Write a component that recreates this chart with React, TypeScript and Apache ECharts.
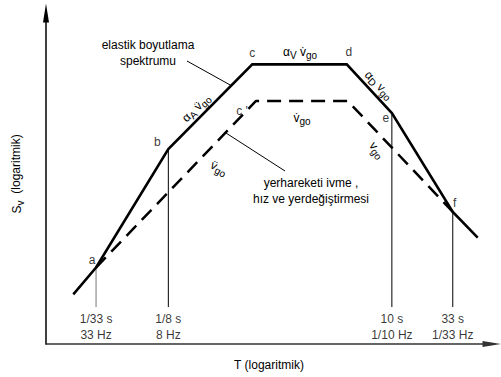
import React, { useEffect, useRef } from 'react';
import * as echarts from 'echarts';

const FONT = '"Liberation Sans", Arial, Helvetica, sans-serif';

// Elastic design spectrum: corner periods T (s) and pseudo-velocity Sv
// (normalised so that the ground velocity plateau equals 1)
const spectrumT = [0.0194, 1 / 33, 1 / 8, 0.648, 4.13, 10, 33, 53.8];
const spectrumSv = [0.0226, 0.0382, 0.39, 2.05, 2.05, 0.79, 0.1135, 0.0686];
const spectrumNames = ['', 'a', 'b', 'c', 'd', 'e', 'f', ''];

// Peak ground motion bounds (acceleration, velocity, displacement)
const groundT = [1 / 33, 0.697, 4.21, 33];
const groundSv = [0.0382, 1, 1, 0.1135];
const groundNames = ['', "c '", '', ''];

// Reference periods marked with vertical guides
const guideT = [1 / 33, 1 / 8, 10, 33];
const guideSv = [0.0382, 0.39, 0.79, 0.1135];
const guideBase = 0.0176;
const periodLabels = ['1/33 s', '1/8 s', '10 s', '33 s'];
const freqLabels = ['33 Hz', '8 Hz', '1/10 Hz', '1/33 Hz'];

// Axis extents (log scales)
const T_EXTENT = [0.01136, 71.2];
const SV_EXTENT = [0.00853, 5.61];

// Where each corner letter sits relative to its corner (px)
const letterOffsets: Record<string, number[]> = {
  a: [-4, -8],
  b: [-11, -7],
  c: [0, -11],
  d: [2, -12],
  e: [-6, 5],
  f: [2, -9],
  "c '": [-14, 10],
};

const rich = {
  n: { fontSize: 12, fontFamily: FONT, color: '#000', lineHeight: 16 },
  s: { fontSize: 10, fontFamily: FONT, color: '#000', lineHeight: 10, verticalAlign: 'bottom' },
};

function gText(x: number, y: number, text: string, rotation = 0, extra: any = {}) {
  return {
    type: 'text',
    x,
    y,
    rotation,
    silent: true,
    style: {
      text,
      rich,
      align: 'center',
      verticalAlign: 'middle',
      fontSize: 12,
      fontFamily: FONT,
      fill: '#000',
      ...extra,
    },
  };
}

function gLine(x1: number, y1: number, x2: number, y2: number) {
  return {
    type: 'line',
    silent: true,
    shape: { x1, y1, x2, y2 },
    style: { stroke: '#000', lineWidth: 1 },
  };
}

export default function App() {
  const ref = useRef<HTMLDivElement>(null);

  useEffect(() => {
    if (!ref.current) return;
    const chart = echarts.init(ref.current, undefined, { renderer: 'svg' });

    const guideSeries = guideT.map((t, i) => ({
      type: 'line',
      data: [
        [t, guideSv[i]],
        [t, guideBase],
      ],
      symbol: 'none',
      lineStyle: { color: i === 0 ? '#777' : '#000', width: 1 },
      z: 1,
    }));

    const letterData: any[] = [];
    spectrumNames.forEach((n, i) => {
      if (n) letterData.push({ name: n, value: [spectrumT[i], spectrumSv[i]] });
    });
    groundNames.forEach((n, i) => {
      if (n) letterData.push({ name: n, value: [groundT[i], groundSv[i]] });
    });

    const option: any = {
      animation: false,
      backgroundColor: '#fff',
      grid: { left: 46, right: 9, top: 13, bottom: 33, containLabel: false },
      xAxis: {
        type: 'log',
        min: T_EXTENT[0],
        max: T_EXTENT[1],
        axisLine: {
          show: true,
          onZero: false,
          symbol: ['none', 'triangle'],
          symbolSize: [6, 19],
          lineStyle: { color: '#333', width: 1.5 },
        },
        axisTick: { show: false },
        axisLabel: { show: false },
        splitLine: { show: false },
        name: 'T (logaritmik)',
        nameLocation: 'middle',
        nameGap: 15,
        nameTextStyle: { fontSize: 12, fontFamily: FONT, color: '#000' },
      },
      yAxis: {
        type: 'log',
        min: SV_EXTENT[0],
        max: SV_EXTENT[1],
        axisLine: {
          show: true,
          onZero: false,
          symbol: ['none', 'triangle'],
          symbolSize: [6, 19],
          lineStyle: { color: '#000', width: 1.5 },
        },
        axisTick: { show: false },
        axisLabel: { show: false },
        splitLine: { show: false },
      },
      series: [
        {
          type: 'line',
          data: spectrumT.map((t, i) => [t, spectrumSv[i]]),
          symbol: 'none',
          lineStyle: { color: '#000', width: 2.6, join: 'miter' },
          z: 3,
        },
        {
          type: 'line',
          data: groundT.map((t, i) => [t, groundSv[i]]),
          symbol: 'none',
          lineStyle: { color: '#000', width: 2.5, type: [14, 8] },
          z: 2,
        },
        ...guideSeries,
        {
          type: 'scatter',
          symbolSize: 1,
          itemStyle: { color: 'transparent' },
          data: guideT.map((t, i) => ({
            value: [t, guideBase],
            name: `${periodLabels[i]}\n${freqLabels[i]}`,
          })),
          label: {
            show: true,
            position: 'bottom',
            distance: 3,
            formatter: (p: any) => p.name,
            fontSize: 12,
            lineHeight: 16,
            fontFamily: FONT,
            color: '#000',
            align: 'center',
          },
          z: 4,
        },
        {
          type: 'scatter',
          symbolSize: 1,
          itemStyle: { color: 'transparent' },
          data: letterData.map((d) => ({
            ...d,
            label: { offset: letterOffsets[d.name] },
          })),
          label: {
            show: true,
            position: 'inside',
            formatter: (p: any) => p.name,
            fontSize: 12,
            fontFamily: FONT,
            color: '#000',
            align: 'center',
            verticalAlign: 'middle',
          },
          z: 4,
        },
      ],
      graphic: [
        gText(148, 53, 'elastik boyutlama\nspektrumu', 0, { lineHeight: 16 }),
        gLine(187, 61, 232, 86),
        gText(311, 191, 'yerhareketi ivme ,\nhız ve yerdeğiştirmesi', 0, { lineHeight: 16 }),
        gLine(226, 133, 285, 171),
        gText(300, 52, '{n|α}{s|V} {n|v\u0307}{s|go}'),
        gText(302, 118, '{n|v\u0307}{s|go}'),
        gText(196, 108, '{n|α}{s|A} {n|v\u0308}{s|go}', Math.PI / 4),
        gText(379, 85, '{n|α}{s|D} {n|v}{s|go}', -0.8),
        gText(377, 150, '{n|v}{s|go}', -0.95),
        gText(219, 168, '{n|v\u0308}{s|go}', -0.5),
        // vertical axis title
        gText(17, 207, '{n|S}{s|v}', Math.PI / 2),
        gText(16, 164, '(logaritmik)', Math.PI / 2),
      ],
    };

    chart.setOption(option);
    return () => chart.dispose();
  }, []);

  return (
    <div
      ref={ref}
      style={{ position: 'fixed', left: 0, top: 0, width: 501, height: 377, background: '#fff' }}
    />
  );
}
